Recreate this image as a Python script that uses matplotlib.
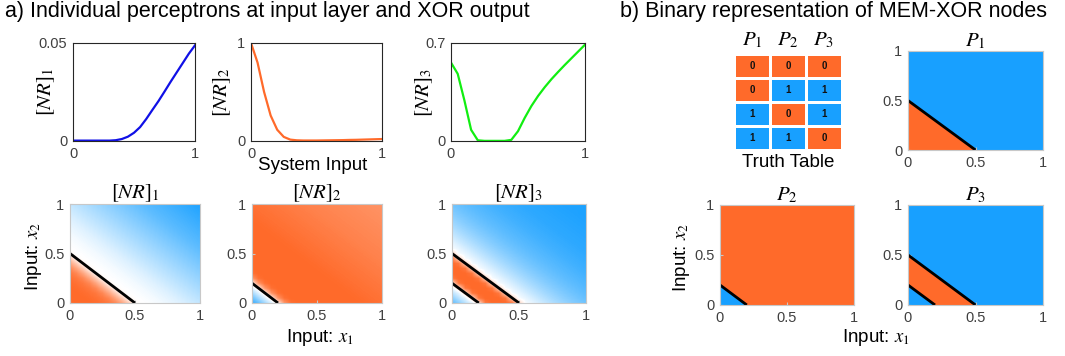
import numpy as np
import matplotlib.pyplot as plt
from matplotlib.colors import LinearSegmentedColormap, ListedColormap

plt.rcParams['font.family'] = ['Liberation Sans', 'DejaVu Sans']
plt.rcParams['mathtext.fontset'] = 'stix'

W, H = 1065, 356
orange = '#ff6a2a'
blue = '#18a0ff'
tick_grey = '#404040'

# --- top row: response vs system input
x_in = [0.0, 0.05, 0.1, 0.15, 0.2, 0.25, 0.3, 0.35, 0.4, 0.45, 0.5,
        0.55, 0.6, 0.65, 0.7, 0.75, 0.8, 0.85, 0.9, 0.95, 1.0]
nr1 = [0.0002, 0.0002, 0.0002, 0.0002, 0.0002, 0.0002, 0.0002, 0.0004, 0.001, 0.0022, 0.0042,
       0.0071, 0.0112, 0.0158, 0.0203, 0.0252, 0.0302, 0.035, 0.0398, 0.0446, 0.0488]
nr2 = [1.0, 0.80, 0.50, 0.26, 0.115, 0.042, 0.014, 0.007, 0.005, 0.005, 0.005,
       0.006, 0.007, 0.008, 0.009, 0.011, 0.012, 0.014, 0.016, 0.018, 0.02]
nr3 = [0.56, 0.48, 0.29, 0.08, 0.005, 0.001, 0.001, 0.001, 0.001, 0.008, 0.07,
       0.165, 0.25, 0.322, 0.385, 0.442, 0.494, 0.544, 0.592, 0.64, 0.688]
nr_ymax = [0.05, 1, 0.7]
nr_yticklabels = [['0', '0.05'], ['0', '1'], ['0', '0.7']]
line_colors = ['#1010e6', '#ff6a2a', '#11ee11']

# --- bottom row: colour level along x1 + x2 = 0, 0.05, ..., 2
# (negative = orange, positive = blue, magnitude = intensity)
map_nr1 = [-1, -1, -1, -1, -0.98, -0.95, -0.9, -0.8, -0.6, -0.35, -0.05,
           0.0, 0.01, 0.03, 0.05, 0.08, 0.11, 0.14, 0.18, 0.22, 0.26,
           0.3, 0.34, 0.38, 0.42, 0.46, 0.5, 0.54, 0.58, 0.62, 0.66,
           0.7, 0.73, 0.76, 0.79, 0.82, 0.85, 0.88, 0.91, 0.94, 0.97]
map_nr2 = [0.9, 0.65, 0.4, 0.15, -0.1, -0.7, -0.95, -1, -1, -1, -1,
           -1, -1, -1, -1, -1, -1, -0.99, -0.98, -0.96, -0.95,
           -0.94, -0.92, -0.91, -0.9, -0.88, -0.87, -0.86, -0.84, -0.83, -0.82,
           -0.81, -0.8, -0.79, -0.78, -0.77, -0.76, -0.75, -0.74, -0.73, -0.72]
map_nr3 = [0.7, 0.5, 0.3, 0.12, -0.2, -0.9, -1, -1, -1, -0.9, -0.3,
           0.03, 0.1, 0.18, 0.26, 0.33, 0.4, 0.46, 0.52, 0.57, 0.62,
           0.66, 0.7, 0.73, 0.76, 0.79, 0.82, 0.84, 0.86, 0.88, 0.9,
           0.91, 0.92, 0.93, 0.94, 0.95, 0.96, 0.97, 0.97, 0.98, 0.98]
map_bounds = [[0.5], [0.2], [0.2, 0.5]]
map_titles = ['$[NR]_1$', '$[NR]_2$', '$[NR]_3$']

# --- binary maps and truth table (0 = orange, 1 = blue)
band_edges = [0, 0.2, 0.5, 2.0]
p_bands = {'P1': [0, 0, 1], 'P2': [1, 0, 0], 'P3': [1, 0, 1]}
p_bounds = {'P1': [0.5], 'P2': [0.2], 'P3': [0.2, 0.5]}
truth_P1 = [0, 0, 1, 1]
truth_P2 = [0, 1, 0, 1]
truth_P3 = [0, 1, 1, 0]


def rect(l, r, t, b):
    return [l / W, 1 - b / H, (r - l) / W, (b - t) / H]


fig = plt.figure(figsize=(W / 100, H / 100), dpi=100)

fig.text(5 / W, 1 - 12 / H, 'a) Individual perceptrons at input layer and XOR output',
         fontsize=15.5, va='center', ha='left')
fig.text(620 / W, 1 - 12 / H, 'b) Binary representation of MEM-XOR nodes',
         fontsize=15.5, va='center', ha='left')

# top row
top_rects = [rect(73, 195, 43, 141), rect(251, 382, 43, 141), rect(451, 585, 43, 141)]
label_x = [-0.13, -0.14, -0.12]
for k, y in enumerate([nr1, nr2, nr3]):
    ax = fig.add_axes(top_rects[k])
    ax.plot(x_in, y, color=line_colors[k], lw=1.6)
    ax.set_xlim(0, 1)
    ax.set_ylim(0, nr_ymax[k])
    ax.set_xticks([0, 1])
    ax.set_xticklabels(['0', '1'])
    ax.set_yticks([0, nr_ymax[k]])
    ax.set_yticklabels(nr_yticklabels[k])
    ax.tick_params(length=0, labelsize=10.5, labelcolor=tick_grey, pad=4)
    for s in ax.spines.values():
        s.set_color('#262626')
        s.set_linewidth(0.8)
    ax.set_ylabel('$[NR]_%d$' % (k + 1), fontsize=15)
    ax.yaxis.set_label_coords(label_x[k], 0.5)
fig.text(313 / W, 1 - 165 / H, 'System Input', fontsize=13.5, ha='center', va='center')

cmap = LinearSegmentedColormap.from_list('ob', [orange, 'white', blue])
idx = np.add.outer(np.arange(21), np.arange(21))
half = 0.025


def style_map(ax):
    ax.set_xlim(0, 1)
    ax.set_ylim(0, 1)
    ax.set_aspect('auto')
    ax.set_xticks([0, 0.5, 1])
    ax.set_xticklabels(['0', '0.5', '1'])
    ax.set_yticks([0, 0.5, 1])
    ax.set_yticklabels(['0', '0.5', '1'])
    ax.tick_params(direction='in', length=2, color='#c8c8c8',
                   labelsize=10.5, labelcolor=tick_grey, pad=4)
    for s in ax.spines.values():
        s.set_color('#c8c8c8')
        s.set_linewidth(0.8)


bot_rects = [rect(70, 200, 204, 303), rect(252, 382, 204, 303), rect(452, 586, 204, 303)]
for k, prof in enumerate([map_nr1, map_nr2, map_nr3]):
    ax = fig.add_axes(bot_rects[k])
    Z = np.array(prof)[idx]
    ax.imshow(Z, cmap=cmap, vmin=-1, vmax=1, origin='lower', interpolation='bilinear',
              extent=[-half, 1 + half, -half, 1 + half])
    for t in map_bounds[k]:
        ax.plot([0, t], [t, 0], color='k', lw=2, solid_capstyle='butt')
    style_map(ax)
    ax.set_title(map_titles[k], fontsize=15, pad=2)
fig.text(33 / W, 1 - 257 / H, 'Input: $x_2$', fontsize=13.5, rotation=90,
         ha='center', va='center')
fig.text(320 / W, 1 - 337 / H, 'Input: $x_1$', fontsize=13.5, ha='center', va='center')

# truth table
ax = fig.add_axes(rect(734, 842, 54, 150))
tt = np.array([truth_P1, truth_P2, truth_P3]).T
ax.pcolormesh(tt, cmap=ListedColormap([orange, blue]), vmin=0, vmax=1,
              edgecolors='white', linewidth=2)
for i in range(tt.shape[0]):
    for j in range(tt.shape[1]):
        ax.text(j + 0.5, i + 0.5, str(tt[i, j]), ha='center', va='center',
                fontsize=7, fontweight='bold', color='#111111')
ax.set_xlim(0, 3)
ax.set_ylim(4, 0)
ax.xaxis.tick_top()
ax.set_xticks([0.5, 1.5, 2.5])
ax.set_xticklabels(['$P_1$', '$P_2$', '$P_3$'], fontsize=15)
ax.set_yticks([])
ax.tick_params(length=0, pad=3)
for s in ax.spines.values():
    s.set_visible(False)
ax.set_xlabel('Truth Table', fontsize=13.5, labelpad=3)

# binary maps
gx = np.linspace(0, 1, 401)
X1, X2 = np.meshgrid(gx, gx)
S = X1 + X2
p_rects = {'P1': rect(908, 1043, 51, 150), 'P2': rect(720, 854, 205, 305),
           'P3': rect(908, 1043, 205, 305)}
for name in ['P1', 'P2', 'P3']:
    ax = fig.add_axes(p_rects[name])
    cols = [blue if b else orange for b in p_bands[name]]
    ax.contourf(X1, X2, S, levels=band_edges, colors=cols)
    for t in p_bounds[name]:
        ax.plot([0, t], [t, 0], color='k', lw=2, solid_capstyle='butt')
    style_map(ax)
    ax.set_title('$P_%s$' % name[1], fontsize=15, pad=2)
fig.text(682 / W, 1 - 258 / H, 'Input: $x_2$', fontsize=13.5, rotation=90,
         ha='center', va='center')
fig.text(876 / W, 1 - 337 / H, 'Input: $x_1$', fontsize=13.5, ha='center', va='center')

fig.savefig('out.png', dpi=100)
